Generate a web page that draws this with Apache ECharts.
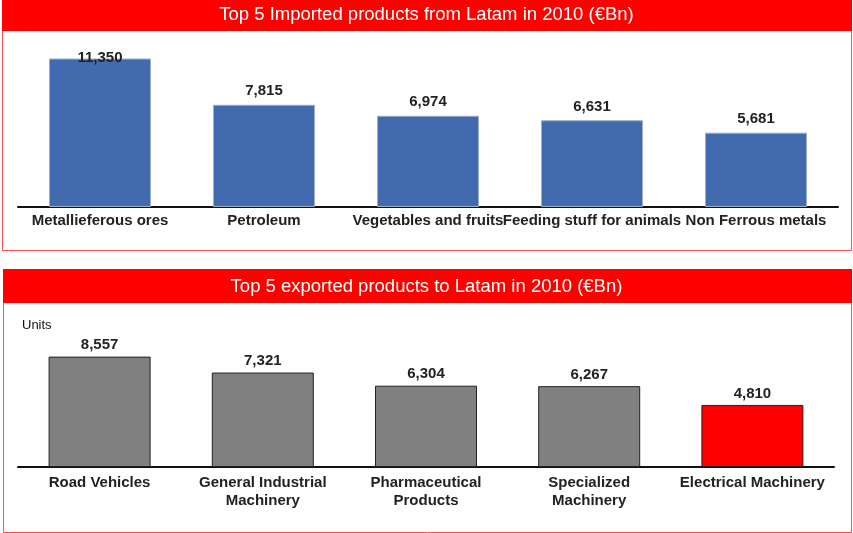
<!DOCTYPE html>
<html>
<head>
<meta charset="utf-8">
<script src="https://cdn.jsdelivr.net/npm/echarts@6/dist/echarts.min.js"></script>
<style>
  html, body { margin: 0; padding: 0; background: #fff; }
  #main { width: 853px; height: 533px; }
</style>
</head>
<body>
<div id="main"></div>
<script>
// 进口前五
const importCats = ['Metallieferous ores', 'Petroleum', 'Vegetables and fruits', 'Feeding stuff for animals', 'Non Ferrous metals'];
const importValues = [11350, 7815, 6974, 6631, 5681];
// 出口前五
const exportCats = ['Road Vehicles', 'General Industrial\nMachinery', 'Pharmaceutical\nProducts', 'Specialized\nMachinery', 'Electrical Machinery'];
const exportValues = [8557, 7321, 6304, 6267, 4810];

const FONT = "'Liberation Sans', Arial, sans-serif";

function fmt(v) {
  return String(v).replace(/\B(?=(\d{3})+(?!\d))/g, ',');
}

let chart = echarts.init(document.getElementById('main'));

let importData = importValues.map((v, i) => {
  // 第一个标签在原图里压在柱顶上
  if (i === 0) return { value: v, label: { offset: [0, 13] } };
  return v;
});

let exportData = exportValues.map((v, i) => {
  if (i === exportValues.length - 1) return { value: v, itemStyle: { color: '#ff0000' } };
  return v;
});

let options = {
  animation: false,
  textStyle: { fontFamily: FONT },
  title: [
    {
      text: 'Top 5 Imported products from Latam in 2010 (€Bn)',
      left: 'center', top: 5, padding: 0,
      textStyle: { color: '#fff', fontSize: 18.5, fontWeight: 'normal', fontFamily: FONT }
    },
    {
      text: 'Top 5 exported products to Latam in 2010 (€Bn)',
      left: 'center', top: 277, padding: 0,
      textStyle: { color: '#fff', fontSize: 18.5, fontWeight: 'normal', fontFamily: FONT }
    }
  ],
  graphic: [
    { type: 'rect', shape: { x: 2.5, y: 0.5, width: 849, height: 250 }, style: { fill: 'none', stroke: '#ff4d4d', lineWidth: 1 } },
    { type: 'rect', shape: { x: 2, y: 0, width: 850, height: 31 }, style: { fill: '#ff0000' } },
    { type: 'rect', shape: { x: 3.5, y: 269.5, width: 848, height: 263 }, style: { fill: 'none', stroke: '#ff4d4d', lineWidth: 1 } },
    { type: 'rect', shape: { x: 3, y: 269, width: 849, height: 34 }, style: { fill: '#ff0000' } },
    { type: 'text', x: 22, y: 325, style: { text: 'Units', fontSize: 13, fontFamily: FONT, fill: '#111', textVerticalAlign: 'middle' } }
  ],
  grid: [
    { left: 18, right: 15, top: 50, bottom: 326 },
    { left: 18, right: 19, top: 338, bottom: 66 }
  ],
  xAxis: [
    {
      type: 'category', gridIndex: 0, data: importCats,
      axisTick: { show: false },
      axisLine: { lineStyle: { color: '#111', width: 2 } },
      axisLabel: { interval: 0, margin: 6, color: '#222', fontSize: 15, fontWeight: 'bold', fontFamily: FONT }
    },
    {
      type: 'category', gridIndex: 1, data: exportCats,
      axisTick: { show: false },
      axisLine: { lineStyle: { color: '#111', width: 2 } },
      axisLabel: { interval: 0, margin: 7, color: '#222', fontSize: 15, fontWeight: 'bold', lineHeight: 18, fontFamily: FONT }
    }
  ],
  yAxis: [
    { type: 'value', gridIndex: 0, min: 0, max: 12000, show: false, splitLine: { show: false } },
    { type: 'value', gridIndex: 1, min: 0, max: 10000, show: false, splitLine: { show: false } }
  ],
  series: [
    {
      type: 'bar', xAxisIndex: 0, yAxisIndex: 0,
      data: importData,
      barWidth: 102,
      itemStyle: { color: '#416aaf', borderColor: '#9fb0c8', borderWidth: 1 },
      label: {
        show: true, position: 'top', distance: 6,
        color: '#222', fontSize: 15, fontWeight: 'bold', fontFamily: FONT,
        formatter: (p) => fmt(p.value)
      }
    },
    {
      type: 'bar', xAxisIndex: 1, yAxisIndex: 1,
      data: exportData,
      barWidth: 102,
      itemStyle: { color: '#808080', borderColor: '#222', borderWidth: 1 },
      label: {
        show: true, position: 'top', distance: 4,
        color: '#222', fontSize: 15, fontWeight: 'bold', fontFamily: FONT,
        formatter: (p) => fmt(p.value)
      }
    }
  ]
};

chart.setOption(options);
</script>
</body>
</html>
